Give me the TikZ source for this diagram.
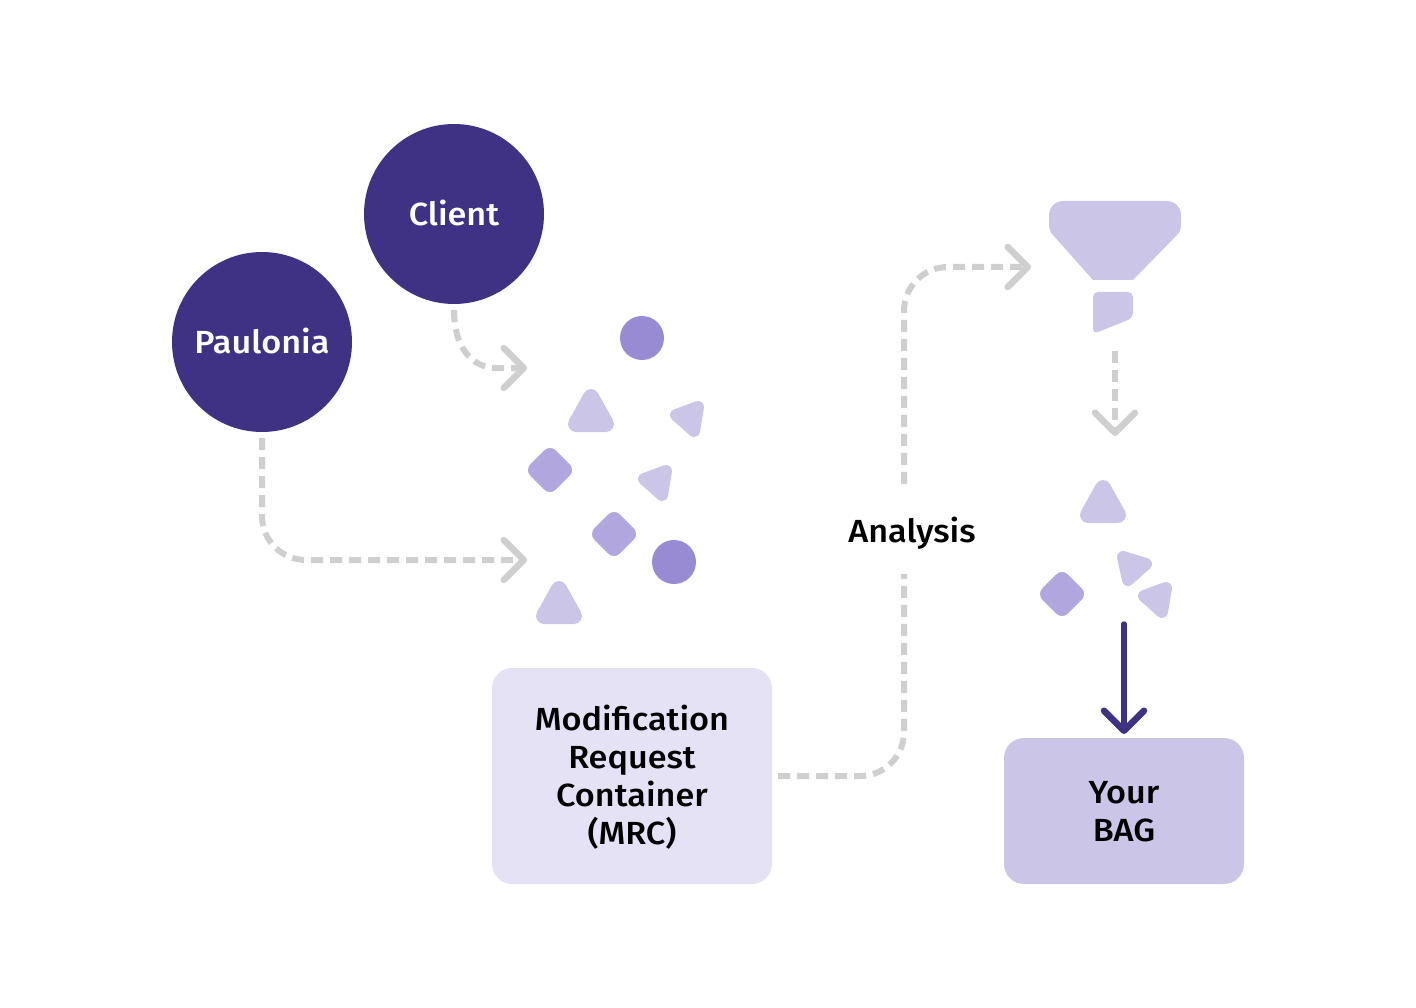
\documentclass[tikz,border=0pt]{standalone}
\usepackage{fontspec}
\setmainfont{Fira Sans Medium}[FakeStretch=1.07]
\usetikzlibrary{arrows.meta}
\definecolor{deep}{HTML}{3F3285}
\definecolor{mid}{HTML}{988AD3}
\definecolor{soft}{HTML}{B1A7DE}
\definecolor{pale}{HTML}{CBC5E8}
\definecolor{faint}{HTML}{E5E2F5}
\definecolor{dashgray}{HTML}{CFCFCF}
\tikzset{
  actor/.style={circle,fill=deep,text=white,minimum size=180pt,inner sep=0pt,font=\fontsize{32}{38}\selectfont},
  boxnode/.style={rounded corners=20pt,align=center,inner sep=0pt,text=black,font=\fontsize{32}{38}\selectfont},
  dashline/.style={draw=dashgray,line width=6pt,dash pattern=on 12pt off 7pt,rounded corners=44pt,
    -{Straight Barb[length=20pt,width=40pt,line width=6.5pt,round]}},
  solidarrow/.style={draw=deep,line width=5.5pt,line cap=round,
    -{Straight Barb[length=20pt,width=40pt,line width=6.5pt,round]}},
  tri/.style={fill=pale,draw=pale,line join=round,line width=16pt},
  tris/.style={fill=pale,draw=pale,line join=round,line width=12pt},
  dia/.style={fill=soft,draw=soft,line join=round,line width=16pt},
  dot/.style={circle,fill=mid,minimum size=44pt,inner sep=0pt},
}
\newcommand{\uptri}[2]{\path[tri] (#1,#2) -- ++(-15,27) -- ++(30,0) -- cycle;}
\newcommand{\sidetri}[2]{\path[tris] (#1,#2) -- ++(22,-8) -- ++(-4,24) -- cycle;}
\newcommand{\rdia}[2]{\path[dia] (#1-14,#2) -- (#1,#2-14) -- (#1+14,#2) -- (#1,#2+14) -- cycle;}
\newcommand{\nudge}[2]{\raisebox{#1}[\height][\depth]{#2}}
\begin{document}
\begin{tikzpicture}[x=1pt,y=-1pt]
\useasboundingbox (0,0) rectangle (1416,1008);
% actors
\node[actor] (client) at (454,214) {\nudge{1pt}{Client}};
\node[actor] (paulonia) at (262,342) {\nudge{1pt}{Paulonia}};
% boxes
\node[boxnode,fill=faint,minimum width=280pt,minimum height=216pt] (mrc) at (632,776) {\nudge{-4pt}{\begin{tabular}{c}Modification\\Request\\Container\\(MRC)\end{tabular}}};
\node[boxnode,fill=pale,minimum width=240pt,minimum height=146pt] (bag) at (1124,811) {\nudge{-4pt}{\begin{tabular}{c}Your\\BAG\end{tabular}}};
% left cluster
\node[dot] (d1) at (642,338) {};
\node[dot] (d2) at (674,562) {};
\uptri{591}{397}
\uptri{559}{589}
\sidetri{676}{415}
\sidetri{644}{479}
\rdia{550}{470}
\rdia{614}{534}
% funnel
\path[fill=pale] (1049,216) .. controls (1049,207) and (1055,201) .. (1064,201) -- (1166,201)
  .. controls (1175,201) and (1181,207) .. (1181,216) -- (1181,224) .. controls (1181,229) and (1180,232) .. (1177,235)
  -- (1133,280) -- (1093,280) -- (1053,235) .. controls (1050,232) and (1049,229) .. (1049,224) -- cycle;
\path[fill=pale,rounded corners=5pt] (1093,292) -- (1133,292) -- (1133,318) -- (1093,334) -- cycle;
\coordinate (funnelout) at (1115,351);
% right cluster
\uptri{1103}{488}
\path[tris] (1123,557) -- (1146,564) -- (1128,580) -- cycle;
\sidetri{1144}{596}
\rdia{1062}{594}
% connector ends
\coordinate (in1) at (527,368);
\coordinate (in2) at (527,560);
\coordinate (in3) at (1031,267);
\coordinate (in4) at (1115,436);
\coordinate (bagtop) at (1124,734);
% connectors
\draw[dashline,rounded corners=0pt] ([yshift=-6pt]client.south) .. controls (454,345) and (470,368) .. (497,368) -- (in1);
\draw[dashline] ([yshift=-6pt]paulonia.south) -- (paulonia.south |- in2) -- (in2);
\draw[dashline] ([xshift=6pt]mrc.east) -- (904,776) -- (904,267) -- (in3);
\draw[dashline,rounded corners=0pt] (funnelout) -- (in4);
\draw[solidarrow] (1124,624) -- (bagtop);
% label on the line
\node[fill=white,inner xsep=4pt,minimum height=88pt,text=black,font=\fontsize{32}{38}\selectfont] (analysis) at (912,530) {\nudge{-3pt}{Analysis}};
\end{tikzpicture}
\end{document}
